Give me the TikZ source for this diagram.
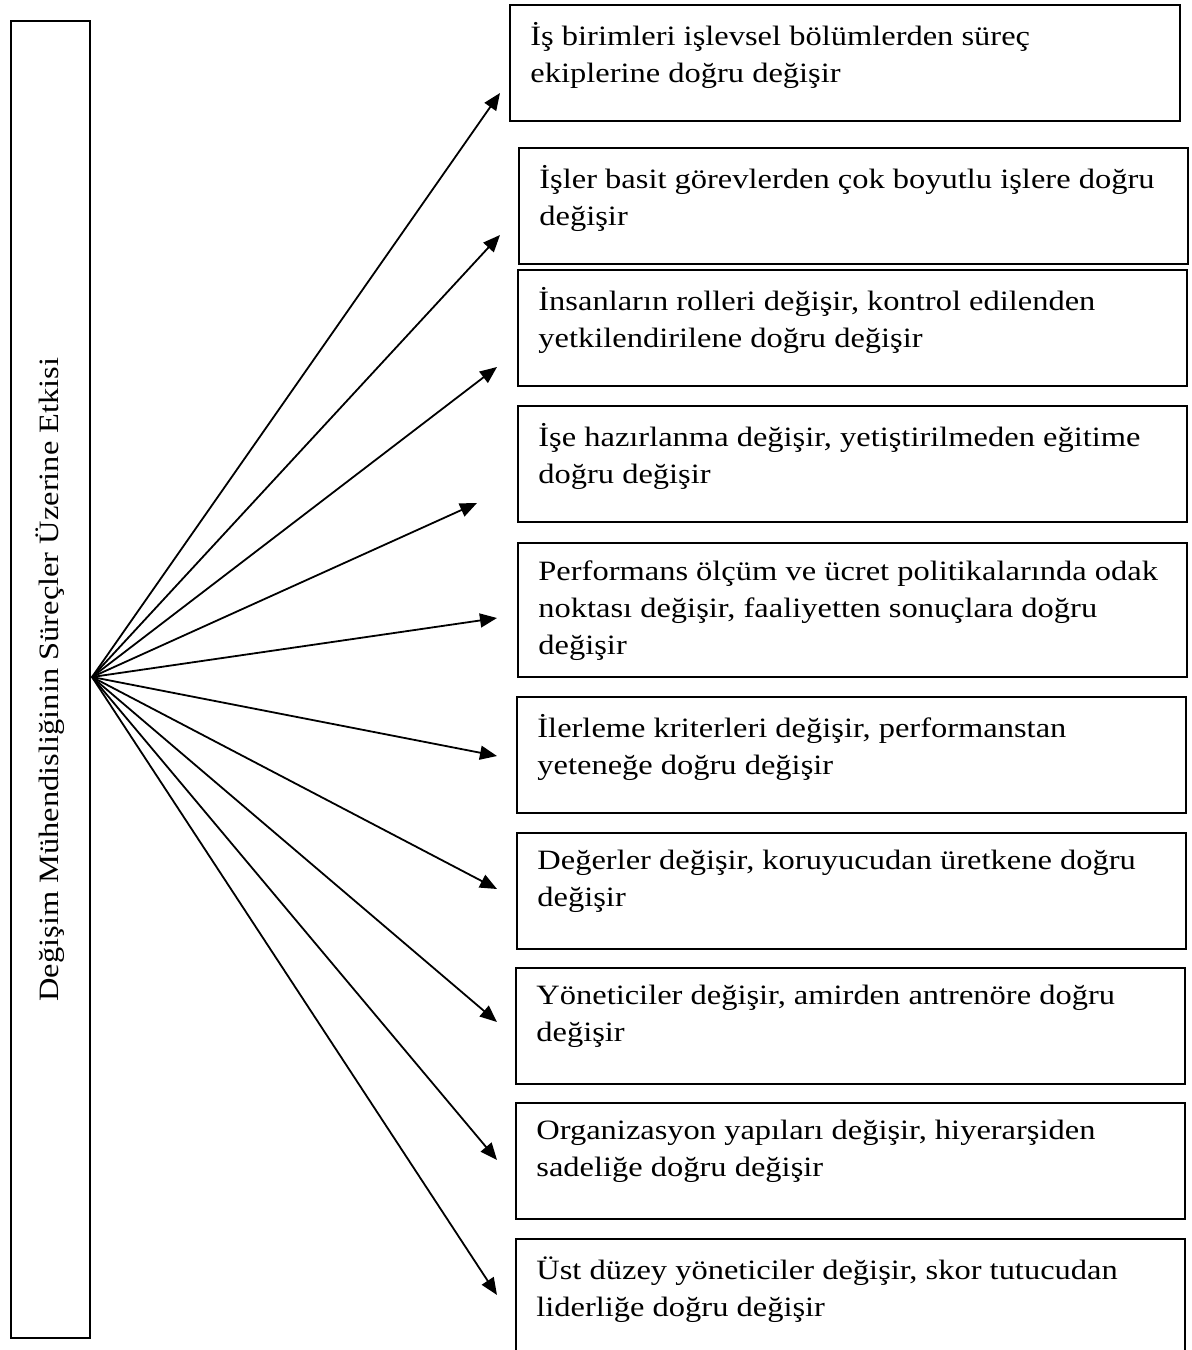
\documentclass[tikz,border=0pt]{standalone}
\usepackage{fontspec}
\setmainfont{Liberation Serif}[FakeStretch=1.16]
\usetikzlibrary{arrows.meta}

\begin{document}
\begin{tikzpicture}[x=0.5pt, y=-0.5pt,
  chbox/.style={draw, line width=0.9pt, anchor=north west, minimum width=334.5pt, minimum height=58pt, inner sep=0pt},
  chtext/.style={anchor=north west, align=left, inner sep=0pt, font=\fontsize{14}{18.5}\selectfont, execute at begin node=\strut},
  arr/.style={-{Triangle[length=8.5pt, width=7pt]}, line width=0.9pt},
]
  \useasboundingbox (0,0) rectangle (1192,1350);

  % left box with the rotated title
  \node[draw, line width=0.9pt, rotate=90, minimum width=658.5pt, minimum height=39.5pt, inner sep=0pt, font=\fontsize{14}{18.5}\selectfont] (etki) at (50.5,679.5) {Değişim Mühendisliğinin Süreçler Üzerine Etkisi};
  \coordinate (hub) at (92,677);

  % right column of changes
  \node[chbox, minimum width=335pt] (b1) at (509,4) {};
  \node[chbox] (b2) at (518,147) {};
  \node[chbox] (b3) at (517,269) {};
  \node[chbox] (b4) at (517,405) {};
  \node[chbox, minimum height=67pt] (b5) at (517,542) {};
  \node[chbox] (b6) at (516,696) {};
  \node[chbox] (b7) at (516,832) {};
  \node[chbox] (b8) at (515,967) {};
  \node[chbox] (b9) at (515,1102) {};
  \node[chbox] (b10) at (515,1238) {};

  \node[chtext] (l1) at ([xshift=10.5pt, yshift=-9pt]b1.north west) {İş birimleri işlevsel bölümlerden süreç\\ekiplerine doğru değişir};
  \node[chtext] (l2) at ([xshift=10.5pt, yshift=-9pt]b2.north west) {İşler basit görevlerden çok boyutlu işlere doğru\\değişir};
  \node[chtext] (l3) at ([xshift=10.5pt, yshift=-9pt]b3.north west) {İnsanların rolleri değişir, kontrol edilenden\\yetkilendirilene doğru değişir};
  \node[chtext] (l4) at ([xshift=10.5pt, yshift=-9pt]b4.north west) {İşe hazırlanma değişir, yetiştirilmeden eğitime\\doğru değişir};
  \node[chtext] (l5) at ([xshift=10.5pt, yshift=-9pt]b5.north west) {Performans ölçüm ve ücret politikalarında odak\\noktası değişir, faaliyetten sonuçlara doğru\\değişir};
  \node[chtext] (l6) at ([xshift=10.5pt, yshift=-9pt]b6.north west) {İlerleme kriterleri değişir, performanstan\\yeteneğe doğru değişir};
  \node[chtext] (l7) at ([xshift=10.5pt, yshift=-9pt]b7.north west) {Değerler değişir, koruyucudan üretkene doğru\\değişir};
  \node[chtext] (l8) at ([xshift=10.5pt, yshift=-9pt]b8.north west) {Yöneticiler değişir, amirden antrenöre doğru\\değişir};
  \node[chtext] (l9) at ([xshift=10.5pt, yshift=-9pt]b9.north west) {Organizasyon yapıları değişir, hiyerarşiden\\sadeliğe doğru değişir};
  \node[chtext] (l10) at ([xshift=10.5pt, yshift=-9pt]b10.north west) {Üst düzey yöneticiler değişir, skor tutucudan\\liderliğe doğru değişir};

  % arrow ends, short of the boxes
  \coordinate (t1) at (500,93);
  \coordinate (t2) at (500,235);
  \coordinate (t3) at (497,367);
  \coordinate (t4) at (477,503);
  \coordinate (t5) at (497,618);
  \coordinate (t6) at (497,756);
  \coordinate (t7) at (497,889);
  \coordinate (t8) at (497,1022);
  \coordinate (t9) at (497,1160);
  \coordinate (t10) at (497,1295);

  \draw[arr] (hub) -- (t1);
  \draw[arr] (hub) -- (t2);
  \draw[arr] (hub) -- (t3);
  \draw[arr] (hub) -- (t4);
  \draw[arr] (hub) -- (t5);
  \draw[arr] (hub) -- (t6);
  \draw[arr] (hub) -- (t7);
  \draw[arr] (hub) -- (t8);
  \draw[arr] (hub) -- (t9);
  \draw[arr] (hub) -- (t10);
\end{tikzpicture}
\end{document}
